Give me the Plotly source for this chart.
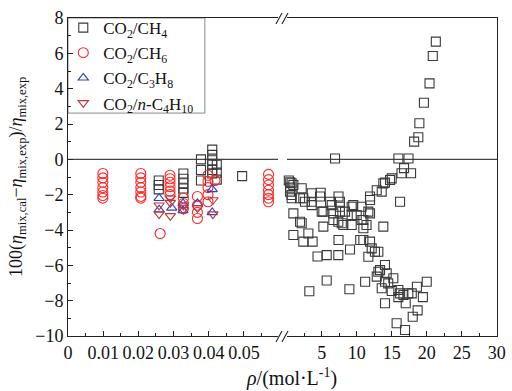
import plotly.graph_objects as go

# ---------------- data ----------------
# Low-density region (left axis segment), rho in mol/L
ch4_low_rho = [0.0258, 0.0258, 0.0258,
               0.0328, 0.0328, 0.0328, 0.0328, 0.0328,
               0.0378, 0.0378, 0.0378,
               0.0410, 0.0410, 0.0410, 0.0410, 0.0410, 0.0410,
               0.0423, 0.0423, 0.0423,
               0.0495]
ch4_low_dev = [-1.2, -1.45, -1.7,
               -0.8, -1.1, -1.35, -1.65, -1.9,
               0.0, -0.6, -1.2,
               0.55, 0.25, -0.05, -0.3, -0.6, -0.8,
               -0.3, -0.75, -1.15,
               -0.95]

ch6_rho = [0.0099] * 7 + [0.0207] * 7 + [0.0262] + [0.0290] * 6 + [0.0328] * 3 \
          + [0.0368] * 4 + [0.0398] * 5 + [0.0418] + [0.0570] * 7
ch6_dev = [-0.8, -1.05, -1.3, -1.6, -1.85, -2.05, -2.2,
           -0.8, -1.05, -1.3, -1.6, -1.85, -2.1, -2.2,
           -4.2,
           -0.9, -1.1, -1.3, -1.55, -1.8, -2.0,
           -2.2, -2.5, -2.8,
           -2.1, -2.6, -3.0, -3.35,
           -0.9, -1.25, -1.6, -2.0, -2.4,
           -1.2,
           -0.85, -1.15, -1.45, -1.75, -2.0, -2.2, -2.4]

c3h8_rho = [0.0259, 0.0259, 0.0295, 0.0327, 0.0327, 0.0368, 0.0410, 0.0410]
c3h8_dev = [-2.2, -2.85, -2.75, -2.5, -2.9, -2.5, -1.7, -3.0]

c4h10_rho = [0.0259, 0.0259, 0.0291, 0.0291, 0.0291, 0.0328, 0.0328, 0.0368, 0.0412, 0.0412]
c4h10_dev = [-2.6, -3.1, -2.2, -2.45, -3.2, -2.6, -2.85, -2.75, -2.3, -3.1]

# High-density CO2/CH4 region (right axis segment)
ch4_high_rho = [21.3, 20.86, 20.4, 19.6, 18.95, 18.8, 18.2, 15.95, 17.4, 6.9,
                16.76, 17.76, 16.4, 15.0, 14.04, 14.76, 13.8, 12.86, 13.57, 11.9,
                11.9, 16.19, 10.7, 11.66, 10.0, 10.7, 13.8, 10.95, 10.95, 11.9,
                12.14, 12.6, 13.09, 11.66, 14.04, 13.33, 13.09, 12.86, 14.28, 15.23,
                14.5, 14.04, 13.57, 11.2, 15.0, 15.95, 16.2, 16.67, 17.37, 17.86,
                15.95, 18.6, 20.0, 19.45, 17.0, 14.04, 18.7, 18.0, 15.7, 16.9,
                0.3, 0.5, 0.7, 0.95, 0.5, 0.47, 0.7, 0.7, 2.14, 1.9,
                2.6, 2.37, 3.57, 3.57, 3.57, 4.76, 4.86, 5.0, 5.23, 6.2,
                6.43, 7.4, 7.6, 7.6, 7.6, 6.66, 6.66, 8.33, 7.86, 7.37,
                8.09, 9.28, 9.5, 9.28, 9.28, 10.95, 11.9, 11.4, 0.95, 2.14,
                1.9, 5.23, 0.95, 2.37, 3.7, 3.09, 7.4, 10.5, 9.04, 4.4,
                5.71, 7.37, 5.71, 3.23, 8.95]
ch4_high_dev = [6.66, 5.85, 4.3, 3.2, 2.04, 1.25, 1.0, 0.05, 0.05, 0.05,
                -0.5, -0.79, -0.79, -1.08, -1.32, -1.17, -1.36, -1.75, -1.83, -2.1,
                -2.3, -2.4, -2.68, -2.96, -3.15, -3.43, -3.81, -3.9, -4.57, -4.66,
                -5.04, -5.23, -5.23, -5.51, -5.98, -6.27, -6.36, -6.64, -6.45, -6.73,
                -7.02, -6.93, -7.3, -6.93, -7.45, -7.4, -7.59, -7.68, -7.59, -7.59,
                -7.8, -7.21, -6.93, -7.8, -8.15, -8.15, -8.55, -8.91, -9.28, -9.66,
                -1.2, -1.3, -1.35, -1.45, -1.6, -1.83, -2.02, -2.2, -1.64, -2.2,
                -2.4, -2.2, -1.92, -2.4, -2.59, -2.1, -1.89, -2.96, -2.96, -2.4,
                -2.59, -2.1, -2.4, -2.68, -2.96, -3.06, -3.43, -2.96, -3.62, -3.53,
                -3.72, -2.68, -2.59, -3.15, -3.72, -3.43, -3.06, -3.72, -3.06, -3.62,
                -3.53, -3.81, -4.28, -4.66, -4.66, -4.2, -4.57, -4.57, -5.1, -5.5,
                -5.42, -5.42, -6.86, -7.47, -7.35]

y_ticks = [-10, -8, -6, -4, -2, 0, 2, 4, 6, 8]
left_x_ticks = [0, 0.01, 0.02, 0.03, 0.04, 0.05]
left_x_ticktext = ["0", "0.01", "0.02", "0.03", "0.04", "0.05"]
right_x_ticks = [5, 10, 15, 20, 25, 30]
right_x_ticktext = ["5", "10", "15", "20", "25", "30"]

names = ["CO<sub>2</sub>/CH<sub>4</sub>", "CO<sub>2</sub>/CH<sub>6</sub>",
         "CO<sub>2</sub>/C<sub>3</sub>H<sub>8</sub>",
         "CO<sub>2</sub>/<i>n</i>-C<sub>4</sub>H<sub>10</sub>"]

# ---------------- figure ----------------
FONT = "Liberation Serif, Times New Roman, serif"
C_SQ, C_CI, C_UP, C_DN = "#3a3a3a", "#ff2a2a", "#2b45c8", "#c23232"

fig = go.Figure()
fig.add_trace(go.Scatter(x=ch4_low_rho, y=ch4_low_dev, mode="markers", name=names[0],
                         xaxis="x", yaxis="y", cliponaxis=False, legendgroup="a",
                         marker=dict(symbol="square-open", size=9, color=C_SQ, line=dict(width=1.1))))
fig.add_trace(go.Scatter(x=ch6_rho, y=ch6_dev, mode="markers", name=names[1],
                         xaxis="x", yaxis="y", cliponaxis=False,
                         marker=dict(symbol="circle-open", size=10, color=C_CI, line=dict(width=1.1))))
fig.add_trace(go.Scatter(x=c3h8_rho, y=c3h8_dev, mode="markers", name=names[2],
                         xaxis="x", yaxis="y", cliponaxis=False,
                         marker=dict(symbol="triangle-up-open", size=9, color=C_UP, line=dict(width=1.1))))
fig.add_trace(go.Scatter(x=c4h10_rho, y=c4h10_dev, mode="markers", name=names[3],
                         xaxis="x", yaxis="y", cliponaxis=False,
                         marker=dict(symbol="triangle-down-open", size=9, color=C_DN, line=dict(width=1.1))))
fig.add_trace(go.Scatter(x=ch4_high_rho, y=ch4_high_dev, mode="markers", name=names[0],
                         xaxis="x2", yaxis="y2", cliponaxis=False, legendgroup="a", showlegend=False,
                         marker=dict(symbol="square-open", size=9, color=C_SQ, line=dict(width=1.1))))

axis_common = dict(showgrid=False, zeroline=False, showline=True, linecolor="#222", linewidth=1,
                   ticks="inside", ticklen=5, tickcolor="#222", tickangle=0,
                   tickfont=dict(family=FONT, size=18, color="#111"))

fig.update_layout(
    width=512, height=391,
    margin=dict(l=68, r=15, t=18, b=55, autoexpand=False),
    paper_bgcolor="white", plot_bgcolor="white",
    font=dict(family=FONT, size=18, color="#111"),
    xaxis=dict(domain=[0, 0.4895], range=[0, 0.0597], anchor="y", mirror=True,
               tickmode="array", tickvals=left_x_ticks, ticktext=left_x_ticktext,
               minor=dict(tickmode="linear", tick0=0, dtick=0.005, ticks="inside", ticklen=3, tickcolor="#222"),
               **axis_common),
    xaxis2=dict(domain=[0.5105, 1], range=[0.04, 30.04], anchor="y2", mirror=True,
                tickmode="array", tickvals=right_x_ticks, ticktext=right_x_ticktext,
                minor=dict(tickmode="linear", tick0=0, dtick=2.5, ticks="inside", ticklen=3, tickcolor="#222"),
                **axis_common),
    yaxis=dict(domain=[0, 1], range=[-10, 8], anchor="x",
               tickmode="array", tickvals=y_ticks,
               minor=dict(tickmode="linear", tick0=0, dtick=1, ticks="inside", ticklen=3, tickcolor="#222"),
               **axis_common),
    yaxis2=dict(domain=[0, 1], range=[-10, 8], anchor="x2", matches="y", side="right",
                showgrid=False, zeroline=False, showline=True, linecolor="#222", linewidth=1,
                ticks="", showticklabels=False),
    legend=dict(x=-0.011, y=1.025, xanchor="left", yanchor="top", bgcolor="rgba(0,0,0,0)",
                borderwidth=0, tracegroupgap=0, itemwidth=30,
                font=dict(family=FONT, size=17, color="#111")),
    showlegend=True,
)

# legend frame
fig.add_shape(type="rect", xref="paper", yref="paper", x0=0, x1=0.319, y0=0.701, y1=1,
              line=dict(color="#8a8a8a", width=1), fillcolor="white", layer="below")

# zero reference lines (broken at the axis break)
fig.add_shape(type="line", xref="x domain", yref="y", x0=0, x1=1, y0=0, y1=0,
              line=dict(color="#444", width=1.2), layer="below")
fig.add_shape(type="line", xref="x2 domain", yref="y2", x0=0, x1=1, y0=0, y1=0,
              line=dict(color="#444", width=1.2), layer="below")

# axis-break marks "//" (bottom and top)
for yb, yt in [(-0.019, 0.016), (0.981, 1.016)]:
    for xs in [0.4848, 0.4988]:
        fig.add_shape(type="line", xref="paper", yref="paper", x0=xs, x1=xs + 0.014, y0=yb, y1=yt,
                      line=dict(color="#222", width=1.1))

# axis titles
fig.add_annotation(xref="paper", yref="paper", x=0.522, y=-0.132, showarrow=False,
                   text="<i>ρ</i>/(mol·L<sup>-1</sup>)", font=dict(family=FONT, size=20, color="#111"),
                   xanchor="center", yanchor="middle")
fig.add_annotation(xref="paper", yref="paper", x=-0.119, y=0.5, showarrow=False, textangle=-90,
                   text="100(<i>η</i><sub>mix,cal</sub>−<i>η</i><sub>mix,exp</sub>)/<i>η</i><sub>mix,exp</sub>",
                   font=dict(family=FONT, size=18, color="#111"),
                   xanchor="center", yanchor="middle")

fig.write_html("out.html", config={"displayModeBar": False},
               post_script="document.body.style.margin='0';document.body.style.overflow='hidden';")
